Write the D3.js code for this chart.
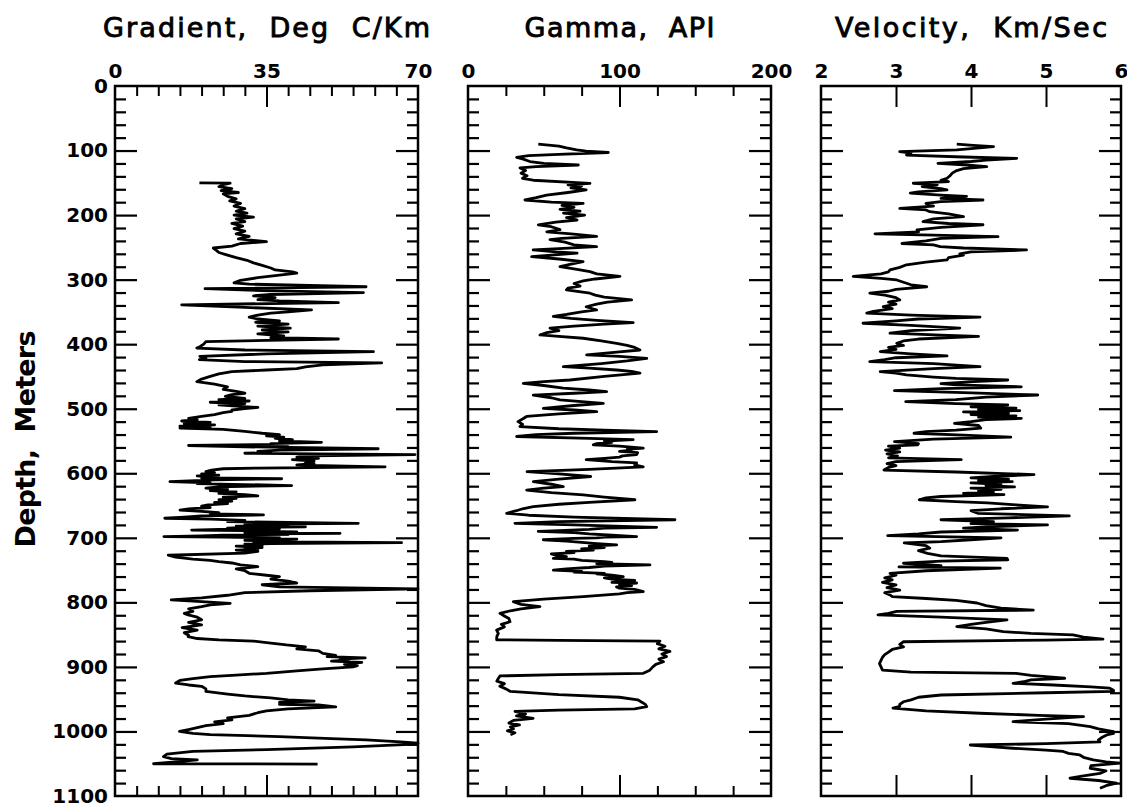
<!DOCTYPE html>
<html><head><meta charset="utf-8">
<script src="https://cdn.jsdelivr.net/npm/d3@7"></script>
<style>body{margin:0;background:#fff} svg{display:block}</style>
</head><body>
<svg id="c" width="1127" height="808"></svg>
<script>
// ---------- data ----------
const panelTitles = ["Gradient,  Deg  C/Km", "Gamma,  API", "Velocity,  Km/Sec"];
const depthLabelText = "Depth,  Meters";
const depthTickLabels = [0,100,200,300,400,500,600,700,800,900,1000,1100];
const gradientTickLabels = [0,35,70];
const gammaTickLabels = [0,100,200];
const velocityTickLabels = [2,3,4,5,6];

// [depth m, gradient degC/km]
const gradientLog = [[150,19.5],[150.5,26.6],[153,25],[156,24],[159,27],[162,24.5],[165,28.5],[167,25],[171,26],[175,28],[178,26.5],[182,29],[186,27.5],[190,30],[194,28],[197,30.5],[200,27.5],[203,32],[206,28],[210,30],[213,27],[217,29.5],[221,27.5],[225,30],[229,28],[233,31],[237,28.5],[241,35],[244,29],[248,27],[251,22.7],[255,23.5],[258,24],[262,26],[266,28],[270,30.5],[274,32],[278,34],[282,36],[285,37],[288,41],[290,42],[293,38],[297,33],[301,29],[305,27.5],[307,31],[311,58],[314,20.8],[317,34],[320,57.4],[323,36],[325,32],[328,37],[331,33],[333,38],[335.6,51.6],[339,15.4],[343,30],[347,45.4],[350,40],[352,36],[355,33],[358,31],[361,33],[364,38],[366,32.5],[369,40],[372,33],[375,40.5],[378,34],[381,40],[384,33],[387,39],[390,36],[392,51.6],[396,21],[400,20.5],[404,19.6],[406,18.9],[409,30],[411.6,59.7],[415,35],[419,19.6],[422,21],[424,19.5],[427,30],[429,61.6],[432,48],[435,44],[438,42],[440,35],[442.5,27],[446,24],[450,22],[454,20],[458,18.9],[462,23],[466,26],[470,25],[473,28],[476,30],[478,27],[481,25.5],[484,30],[486,24],[488,31],[490,22],[492,30],[494,24],[496,28],[498,33],[500,30],[502,27],[504,27],[506,25],[509,23],[512,20],[515,17],[517,19],[519,15.4],[521,22],[523,16],[525,23],[527,15],[529,22],[530,15],[532,25],[535,30],[538,34],[540,38],[542,35],[544,39],[546,37],[548,41],[550,38],[552,47.7],[554,36],[555,40],[557,17],[559,30],[560,40],[562,60.8],[564,38],[566,33],[568,36],[569,30],[571,69.3],[573,45],[575,42],[577,47],[579,41],[581,46],[583,44],[585,46],[587,42],[588,48],[590,62.4],[592,33],[593,25],[595,22.3],[597.5,21],[599,23],[601,20],[603,24],[604,19],[606,22],[607,20],[608.5,38.5],[610,23],[611,20],[613,12.7],[615,22],[616,19],[619,40.8],[621,24],[623,21],[625,26],[627,22],[629,28],[631,24],[633,30],[635,33],[637,25],[639,28],[641,24],[643,27],[645,23],[647,26],[649,21.5],[651,20],[653,22],[655,17],[657,15],[659,20],[661,24],[663,22],[664.5,34.3],[666,20],[668,16],[669.7,11.5],[671,22],[673,30],[675,26],[677.5,56.2],[679,30],[680,40],[682,28],[683,44],[684,30],[685,26],[686,38],[687,24],[688,17.7],[689,30],[690,35],[691,42],[692,30],[693,52],[694,34],[695,40],[696,25],[697,20],[698,11.3],[699,25],[700,38],[701,30],[702,42],[703,36],[704,30],[705,40],[706,32],[707.5,66.2],[709,36],[710,30],[712,34],[713,28],[715,34],[716,30],[718,33],[719,28],[721,33],[723.6,30],[727,12.3],[730,14],[733,18],[735,22],[737,24],[739,27],[742,29],[744.6,33],[748,28],[751,30],[755,31],[758,35],[760,38],[764,36],[767,40],[770,42],[772.7,34],[776,38],[779,70],[782,45],[785,30],[789,26],[793,20],[796.3,13],[799,20],[801.5,26.6],[804,22],[806.7,20],[810,17],[814,18],[817,16],[819.5,16.9],[823,19],[827,20],[831,17],[835,20],[839,15.5],[843,19],[847,16],[851,17],[853,16.9],[856,19],[858,24],[860,32],[863,36],[866,39.6],[869,44],[872,42],[875,47],[879,48],[882,51],[884,49],[886,57.8],[888,52],[889,54],[891,50],[893,57],[896,53],[898,56],[900,55],[903,48],[906,42],[910,35],[913,27],[915,22],[918,18],[921,15],[925,14],[928,17],[930,20],[934,21],[938,21],[942,26],[945,30],[948,36],[951,40],[953,46],[955,38],[956,42],[958,38],[959,47],[962,51],[965,40],[968,35],[971,33],[975,31],[979,26],[982,27],[985,23],[988,25],[991,21],[994,19],[997,17],[1000,14.9],[1003,18],[1005,22],[1008,38],[1011,50],[1013,58],[1016,66],[1018,70],[1020,68],[1024,55],[1028,35],[1031,18],[1035,12],[1039,11.2],[1042,13],[1044,19],[1047,14],[1050,8.9],[1050.5,46.8]];

// [depth m, gamma API]
const gammaLog = [[90,46.4],[93,60],[96,65],[99,71.7],[101,78],[103,92.6],[106,60],[108,40],[110.5,32.1],[113,36],[117,40.9],[120,50],[122.4,72.8],[125,45],[127,34.3],[131,38],[135,35],[139,39],[143,36],[146,43],[150.8,80.5],[153,66],[155,75],[158,68],[161,78],[165,66],[169,51.9],[173,45],[176.6,37.6],[180,55],[182,76],[185,62],[188,70],[191,60.7],[194,74],[197,63],[200,77],[204,65],[207.6,72],[211,58],[215,46.4],[218,55],[222.6,60.7],[226,52],[229,68],[233,84.9],[236,62],[238,54.1],[242,64],[246,70],[249,84.9],[252,60],[254,43],[257,58],[259,72],[262,55],[264.4,42],[268,60],[272,76],[276,68],[280,60.7],[284,72],[287.6,80.5],[291,85],[295,100.3],[299,84],[302,76],[306,70],[310,74],[313,66],[316,65],[321,80.5],[324,84],[327,90],[331.5,108],[335,92],[338,85],[342,78],[347,84.9],[350,75],[354,65],[357,56.3],[360,68],[363,85],[366.6,109],[369,90],[372,70],[375,54.1],[379,60],[382,52],[385.7,47.5],[388,60],[390.8,76],[395,88],[398.7,98.1],[402,105],[405,110],[409,113.5],[412,100],[416.7,78.3],[419,100],[422,118],[426,105],[430,88],[434.8,62.9],[437,80],[440,98.1],[442,108],[445,113.5],[450,90],[455.5,67.3],[458,50],[460.6,36.5],[464,50],[468,62.9],[471,80],[473.6,91.5],[476,70],[479,43.1],[483,55],[486.4,60.7],[489,75],[491.6,89.3],[495,70],[499.4,49.7],[502,70],[504.6,85],[508,60],[512,38.7],[516,36],[520,33],[524,36],[527.7,34.3],[531,60],[533,90],[535.5,124.5],[538,70],[540,45],[543,32.1],[546,80],[548,109],[550,90],[552,95],[554,85],[556,82.7],[558,100],[561,115.7],[563,105],[564,108],[566,100],[568,112],[571,111.3],[573,102],[575,100],[577,90],[579,78],[582,95],[584,111.3],[587,110],[590,115.7],[594,80],[597.5,39],[601,60],[605,81],[609,60],[613,43.1],[617,55],[620.8,62.9],[623,50],[626,38.7],[630,55],[633.6,76.1],[637,90],[641,110.2],[645,80],[648,60],[651.8,43.1],[655,36],[658,32],[662,25.5],[665,40],[668,70],[672,136.6],[675,60],[677.5,31],[680,70],[683.7,124.5],[685,90],[687,80],[689,60],[690,46.4],[692,70],[694,80],[696,95],[698,111.3],[699,90],[700,85],[701,70],[703,49.7],[705,65],[707,75],[709,85],[711,98.1],[713,80],[715,90],[717,75],[719,82.7],[721,65],[723,70],[725,55],[727,58],[729,65],[731.7,56.3],[733,70],[735,75],[737,90],[738,95],[740,85],[742,120.1],[744,90],[746,80],[748,65],[750,56.3],[752,75],[753,70],[755,90],[756,85],[758,95],[760,102.5],[762,90],[764,95],[766,110],[767,105],[769,95],[770,111.3],[772,100],[774,108],[776,98],[778,100],[780,110],[781,112],[783.4,115.7],[785,105],[787,100],[791,76.1],[795,50],[799,29.9],[803,35],[806.6,47.5],[810,35],[813,28],[817,21.1],[821,24],[825,27],[830,27.7],[834,22],[838,24],[843,18.9],[848,20],[853,19],[858,18.9],[859,60],[860,126.7],[864,125],[868,130],[872,126],[876,133.3],[880,128],[884,131],[888,126],[892,129],[896,124],[900,122],[905,120],[910,115.7],[912,60],[914,21.1],[918,20],[922,19],[926,24],[930,21],[934,25],[938,28],[943,60],[947,100],[951,112],[955,115],[958,117],[961.6,118],[965,110],[967,60],[969,31],[973,38],[976,32],[979.6,43],[983,30],[987,27],[990,34],[993,28],[996,30],[999,26],[1002,31],[1005,28]];

// [depth m, velocity km/s]
const velocityLog = [[90,3.81],[92,4.03],[94,4.30],[97,4.0],[99,3.81],[101.8,3.05],[104,3.2],[107,3.14],[110,3.9],[112,4.61],[115,4.2],[117,4.0],[119.8,3.56],[122,3.9],[125,4.21],[128,3.9],[131,3.81],[135,3.75],[139,3.72],[143,3.68],[146,3.6],[148,3.7],[150.7,3.23],[153,3.55],[156,3.35],[159,3.6],[161,3.68],[164,3.3],[166,3.19],[169,3.6],[171,3.94],[174,3.6],[176.6,4.16],[179,3.6],[182,3.4],[186,3.5],[189.5,3.05],[192,3.4],[194.7,3.45],[198,3.7],[202.4,3.90],[206,3.5],[210,3.36],[213,3.7],[215,4.16],[219,3.6],[223,3.28],[226,3.3],[229,2.72],[231,3.5],[233.4,4.36],[236,3.6],[240,3.4],[244,3.08],[246,3.5],[249,3.59],[251,3.9],[254,4.74],[257,4.0],[260,3.85],[262,3.9],[266,3.7],[269.5,3.68],[273,3.4],[277,3.14],[281,3.05],[285,2.92],[288,2.9],[291,2.8],[295,2.43],[298,2.8],[300.5,3.01],[304,3.1],[308,3.2],[311,3.41],[315,3.0],[318,2.9],[321,2.65],[324,2.85],[328,3.0],[331.5,3.05],[335,2.9],[338,3.0],[342,2.83],[345,2.95],[349,2.7],[352,2.61],[355,3.2],[358,4.12],[361,3.3],[364,3.0],[367.6,2.56],[371,3.2],[375,3.85],[379,3.2],[383,2.92],[386,3.6],[388,4.10],[392,3.3],[395,3.1],[398.7,3.01],[402,3.1],[405,2.9],[408,3.0],[411.6,2.79],[415,3.2],[418,3.68],[421,3.0],[424,2.85],[427,2.65],[430,3.5],[434.8,4.12],[438,3.5],[442.5,2.79],[445,3.0],[447.7,3.14],[451,3.5],[453,3.8],[455.5,4.49],[458,4.03],[461,3.6],[463,3.8],[466,4.67],[469,3.6],[472,2.98],[475,3.9],[478.7,4.89],[482,4.2],[486,3.8],[489,3.13],[492,3.8],[494,4.49],[497,4.0],[499,4.6],[501,4.1],[503,4.65],[505,3.9],[507,4.5],[509,4.0],[511,4.6],[513,4.1],[515,4.67],[517,4.2],[520,4.0],[522.6,3.78],[526,4.1],[530,4.13],[533,3.8],[535.5,3.4],[538,3.24],[541,3.9],[544,4.53],[547,3.5],[551,2.98],[554,3.3],[556,3.29],[558,2.9],[561,3.05],[564,2.86],[567,3.05],[570,2.88],[573,3.02],[576,2.9],[579,3.87],[582,3.0],[585,2.88],[588,3.0],[591,2.9],[595,2.84],[598,3.8],[602,4.84],[605,4.3],[607,4.0],[609,4.5],[611,4.1],[613,4.55],[615,4.0],[617,4.4],[619,4.2],[621,4.58],[623,4.0],[625,4.4],[627,4.1],[629,4.3],[631,3.9],[633,4.44],[636,3.6],[638,3.4],[641,3.31],[644,3.8],[646,4.22],[649,4.6],[652,5.02],[655,4.4],[658,4.0],[662,4.09],[664,4.7],[666,5.31],[669,4.5],[672,3.6],[675,4.3],[678,4.0],[680,5.02],[683,4.2],[685,3.9],[688,4.62],[691,3.6],[694,3.3],[696.6,2.89],[700,4.4],[703,4.0],[706,3.6],[708,3.11],[712,3.4],[716,3.45],[720,3.3],[724,3.42],[728,3.6],[731.7,4.48],[734,4.49],[736,3.6],[739.4,3.10],[743,3.6],[745,3.04],[747,4.39],[751,3.4],[755,2.92],[758,3.0],[762,2.85],[765,2.95],[769,2.82],[773,3.0],[777,2.88],[781,3.05],[785,2.85],[788.5,2.92],[791,2.95],[794,3.4],[797,3.8],[801,4.08],[805,4.2],[809,4.4],[812,4.83],[814,3.01],[817,2.9],[819.5,2.76],[823,3.6],[827,4.48],[831,4.2],[834,4.0],[837.6,3.81],[841,4.2],[845.3,4.43],[848,4.8],[850.5,5.36],[854,5.5],[857,5.76],[858.5,5.0],[861,3.10],[865,3.05],[869,3.10],[873,2.95],[877,2.9],[881,2.85],[885,2.82],[890,2.80],[895,2.78],[900,2.80],[905,2.82],[908,3.2],[910,4.6],[913,4.8],[915,5.0],[917.6,5.25],[920,4.8],[923,4.7],[925.4,4.56],[928,5.1],[931,5.6],[933,5.85],[936,5.9],[938,5.90],[940,5.0],[943.5,3.6],[947,3.3],[951,3.2],[954,3.10],[958,3.05],[961,3.05],[964,2.96],[968,3.4],[971.8,4.12],[975,4.9],[977,5.50],[981,5.0],[984.8,4.56],[988,5.3],[992.6,5.59],[996,5.7],[1000.3,5.90],[1003,5.9],[1005.4,5.81],[1009,5.75],[1013,5.7],[1016,5.72],[1019,5.0],[1021,3.99],[1024,4.3],[1026,4.56],[1029,5.0],[1031,5.23],[1034,5.3],[1036.4,5.45],[1040,5.5],[1044,5.63],[1047,5.8],[1049,5.99],[1053,5.6],[1057,5.59],[1061,5.8],[1065,5.72],[1069,5.5],[1072.5,5.32],[1076,5.7],[1080,5.94],[1084,5.8],[1088,5.72]];

// ---------- layout ----------
const svg = d3.select("#c");
const yTop = 86, yBottom = 796;
const y = d3.scaleLinear().domain([0, 1100]).range([yTop, yBottom]);
const depthMinor = d3.range(20, 1100, 20).filter(d => d % 100 !== 0);
const depthMajor = d3.range(100, 1100, 100);

const panels = [
  {title: panelTitles[0], titleLen: 327, domain: [0, 70], range: [115, 418], labels: gradientTickLabels,
   minor: d3.range(5, 70, 5).filter(v => v !== 35), major: [35], data: gradientLog},
  {title: panelTitles[1], titleLen: 190, domain: [0, 200], range: [468, 771], labels: gammaTickLabels,
   minor: d3.range(25, 200, 25).filter(v => v !== 100), major: [100], data: gammaLog},
  {title: panelTitles[2], titleLen: 272, domain: [2, 6], range: [821, 1121], labels: velocityTickLabels,
   minor: [], major: [3, 4, 5], data: velocityLog}
];

const labelFont = "'DejaVu Sans', sans-serif";

function styleTicks(g, w) {
  g.select(".domain").remove();
  g.selectAll(".tick line").attr("stroke", "#000").attr("stroke-width", w);
  g.selectAll(".tick text").remove();
}

panels.forEach((p, i) => {
  const x = d3.scaleLinear().domain(p.domain).range(p.range);
  const g = svg.append("g");
  const W = p.range[1] - p.range[0];

  // x tick marks (inward) top & bottom
  [[d3.axisTop, yTop], [d3.axisBottom, yBottom]].forEach(([ax, yy]) => {
    if (p.minor.length) g.append("g").attr("transform", `translate(0,${yy})`)
      .call(ax(x).tickValues(p.minor).tickSize(-10).tickFormat("")).call(s => styleTicks(s, 2));
    g.append("g").attr("transform", `translate(0,${yy})`)
      .call(ax(x).tickValues(p.major).tickSize(-21).tickFormat("")).call(s => styleTicks(s, 2));
  });
  // y tick marks (inward) left & right
  [[d3.axisLeft, p.range[0]], [d3.axisRight, p.range[1]]].forEach(([ax, xx]) => {
    g.append("g").attr("transform", `translate(${xx},0)`)
      .call(ax(y).tickValues(depthMinor).tickSize(-11).tickFormat("")).call(s => styleTicks(s, 2.2));
    g.append("g").attr("transform", `translate(${xx},0)`)
      .call(ax(y).tickValues(depthMajor).tickSize(-22).tickFormat("")).call(s => styleTicks(s, 2.2));
  });

  // frame
  g.append("rect").attr("x", p.range[0]).attr("y", yTop).attr("width", W).attr("height", yBottom - yTop)
    .attr("fill", "none").attr("stroke", "#000").attr("stroke-width", 2.5);

  // top tick labels
  const lab = g.append("g").attr("transform", `translate(0,${yTop})`)
    .call(d3.axisTop(x).tickValues(p.labels).tickSize(0).tickPadding(8).tickFormat(d3.format("d")));
  lab.select(".domain").remove();
  lab.selectAll("text").attr("font-family", labelFont).attr("font-weight", "bold")
    .attr("font-size", 20).attr("fill", "#000");

  // title
  g.append("text").attr("x", (p.range[0] + p.range[1]) / 2).attr("y", 37)
    .attr("text-anchor", "middle").attr("font-family", labelFont).attr("font-size", 27)
    .attr("fill", "#000").attr("stroke", "#000").attr("stroke-width", 0.9)
    .attr("textLength", p.titleLen).attr("lengthAdjust", "spacing")
    .style("white-space", "pre").text(p.title);

  // log curve
  const line = d3.line().x(d => x(d[1])).y(d => y(d[0]));
  g.append("path").datum(p.data).attr("d", line).attr("fill", "none")
    .attr("stroke", "#000").attr("stroke-width", 2.8).attr("stroke-linejoin", "round");
});

// depth labels on the first panel
const yl = svg.append("g").attr("transform", `translate(115,0)`)
  .call(d3.axisLeft(y).tickValues(depthTickLabels).tickSize(0).tickPadding(7).tickFormat(d3.format("d")));
yl.select(".domain").remove();
yl.selectAll("text").attr("font-family", labelFont).attr("font-weight", "bold")
  .attr("font-size", 20).attr("fill", "#000");

// depth axis title
svg.append("text").attr("transform", "translate(35,439) rotate(-90)")
  .attr("text-anchor", "middle").attr("font-family", labelFont).attr("font-weight", "bold")
  .attr("font-size", 27).attr("fill", "#000")
  .attr("textLength", 217).attr("lengthAdjust", "spacing")
  .style("white-space", "pre").text(depthLabelText);
</script>
</body></html>
